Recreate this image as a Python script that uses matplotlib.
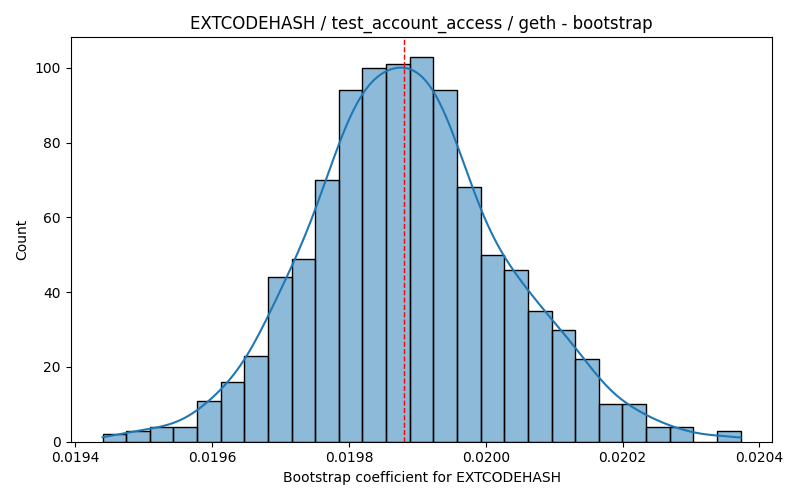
import numpy as np
import matplotlib as mpl
mpl.use('Agg')
import matplotlib.pyplot as plt

# bootstrap histogram (27 bins, 1000 resamples)
x_min = 0.01943994
x_max = 0.02037250
counts = [2, 3, 4, 4, 11, 16, 23, 44, 49, 70, 94, 100, 101, 103,
          94, 68, 50, 46, 35, 30, 22, 10, 10, 4, 4, 0, 3]
estimate = 0.0198803

edges = np.linspace(x_min, x_max, len(counts) + 1)
centers = (edges[:-1] + edges[1:]) / 2
bin_w = edges[1] - edges[0]

fig, ax = plt.subplots(figsize=(8, 5), dpi=100)
ax.hist(centers, bins=edges, weights=counts,
        facecolor=(0.122, 0.467, 0.706, 0.5), edgecolor='black', linewidth=1)

# gaussian kde (scott) on the binned sample, scaled to counts
w = np.array(counts, dtype=float)
n = w.sum()
mean = (w * centers).sum() / n
var = (w * (centers - mean) ** 2).sum() / n - bin_w ** 2 / 12
bw = np.sqrt(var) * n ** (-1 / 5)
grid = np.linspace(x_min, x_max, 200)
dens = (w[None, :] * np.exp(-0.5 * ((grid[:, None] - centers[None, :]) / bw) ** 2)).sum(1)
dens = dens / (n * bw * np.sqrt(2 * np.pi))
ax.plot(grid, dens * n * bin_w, color='#1f77b4', linewidth=1.5)

ax.axvline(estimate, color='red', linestyle='--', linewidth=1)
ax.set_title('EXTCODEHASH / test_account_access / geth - bootstrap')
ax.set_xlabel('Bootstrap coefficient for EXTCODEHASH')
ax.set_ylabel('Count')
fig.tight_layout()
fig.savefig('out.png')
